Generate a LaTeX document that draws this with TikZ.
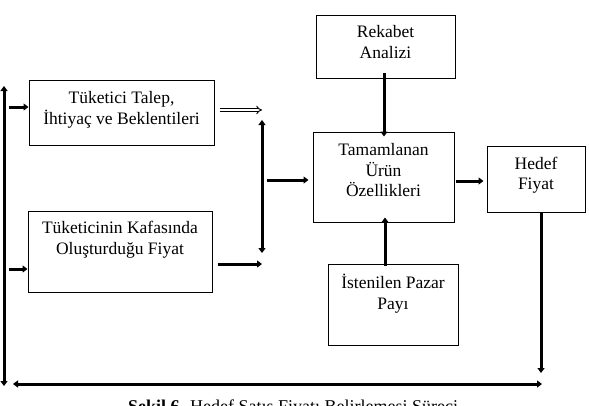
\documentclass[tikz,border=0pt]{standalone}
\usepackage{fontspec}
\setmainfont{Liberation Serif}
\usetikzlibrary{arrows.meta}
\begin{document}
\begin{tikzpicture}[x=1pt,y=-1pt,
  box/.style={draw,line width=1pt,align=center,inner sep=0pt,font=\fontsize{17.5}{20.5}\selectfont},
  thk/.style={line width=3pt,-{Triangle[length=5pt,width=7pt]}},
  thkb/.style={line width=3pt,{Triangle[length=5pt,width=7pt]}-{Triangle[length=5pt,width=7pt]}},
  hollow/.style={double,line width=0.9pt,double distance=2pt,-{Implies}}]
\useasboundingbox (0,0) rectangle (589,405);
\node[box,minimum width=185pt,minimum height=65pt] (t1) at (121.5,112.5) {Tüketici Talep,\\İhtiyaç ve Beklentileri\\[-11.5pt]\mbox{}};
\node[box,minimum width=184pt,minimum height=81pt] (t2) at (120,251.5) {Tüketicinin Kafasında\\Oluşturduğu Fiyat\\[6.5pt]\mbox{}};
\node[box,minimum width=139pt,minimum height=63pt] (rk) at (385.5,46.5) {Rekabet\\Analizi\\[-11.5pt]\mbox{}};
\node[box,minimum width=141pt,minimum height=90pt] (tu) at (383.5,177) {Tamamlanan\\Ürün\\Özellikleri\\[-6.5pt]\mbox{}};
\node[box,minimum width=98pt,minimum height=66pt] (hf) at (536,179) {Hedef\\Fiyat\\[-9.5pt]\mbox{}};
\node[box,minimum width=130pt,minimum height=81pt] (is) at (393,304.5) {İstenilen Pazar\\Payı\\[4.5pt]\mbox{}};
% coordinates
\coordinate (lt) at (4,86);
\coordinate (lb) at (4,386);
\coordinate (a1s) at (9,107);
\coordinate (a2s) at (9,269);
\coordinate (bl) at (13,384);
\coordinate (br) at (542,384);
\coordinate (hb) at (541,373);
\coordinate (ht) at (262,110);
\coordinate (vt) at (262,120);
\coordinate (vb) at (262,253);
\coordinate (mb) at (262,264);
\coordinate (ms) at (267,180);
% connectors
\draw[thkb] (lt) -- (lb);
\draw[thk] (a1s) -- (t1.west |- a1s);
\draw[thk] (a2s) -- (t2.west |- a2s);
\draw[thkb] (bl) -- (br);
\draw[thk] (hf.south -| hb) -- (hb);
\draw[hollow] ([xshift=5pt]t1.east |- ht) -- (ht);
\draw[thkb] (vt) -- (vb);
\draw[thk] ([xshift=5pt]t2.east |- mb) -- (mb);
\draw[thk] (ms) -- ([xshift=-4pt]tu.west |- ms);
\draw[thk] ([yshift=6pt]rk.south -| 384,0) -- ([yshift=-5pt]tu.north -| 384,0);
\draw[thk] ([yshift=-2pt]is.north -| 385,0) -- ([yshift=5pt]tu.south -| 385,0);
\draw[thk] ([xshift=1pt]tu.east |- 0,181) -- ([xshift=-3pt]hf.west |- 0,181);
% caption (cut off at the bottom edge, as in the reference)
\node[anchor=north west,inner sep=0pt,font=\fontsize{18}{20}\selectfont] (cap) at (128,399.5) {\textbf{Şekil 6.} Hedef Satış Fiyatı Belirlemesi Süreci};
\end{tikzpicture}
\end{document}
